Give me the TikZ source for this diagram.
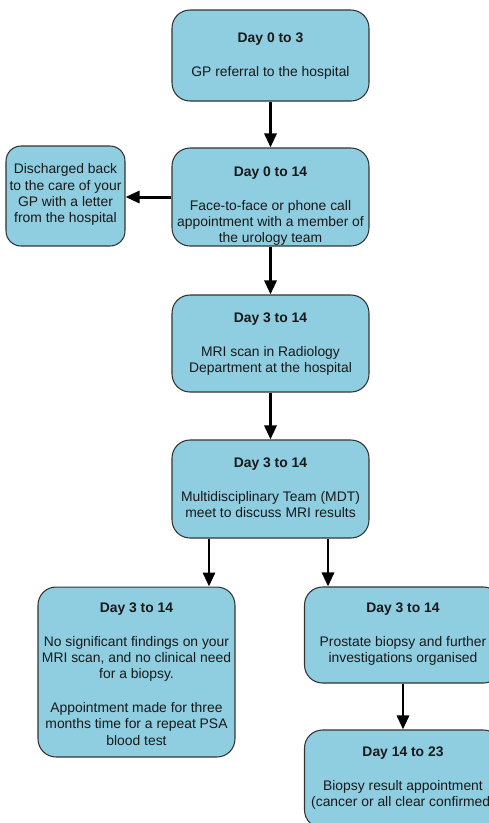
\documentclass[tikz,border=0pt]{standalone}
\usepackage{fontspec}
\setmainfont{Liberation Sans}
\usetikzlibrary{arrows.meta,positioning}
\definecolor{boxblue}{RGB}{142,206,224}
\tikzset{
  stage/.style={draw=black!80, line width=0.6pt, fill=boxblue, rounded corners=0.36cm, minimum width=3.94cm},
  stagetext/.style={align=center, inner sep=0pt, text=black!90, font=\fontsize{7.9}{9.3}\selectfont},
  flow/.style={line width=1.7pt, -{Triangle[length=0.28cm,width=0.24cm]}}
}
\newcommand{\stagegap}{\\[9.8pt]}

\begin{document}
\begin{tikzpicture}[x=0.02cm,y=-0.02cm]
    \useasboundingbox (0,0) rectangle (489,823);
    \clip (0,0) rectangle (489,823);
    \node[stage, minimum height=1.82cm] (referral) at (270.5,55.5) {};
    \node[stagetext, below=0.46cm of referral.north] (referraltxt) {\textbf{Day 0 to 3}\stagegap GP referral to the hospital};
    \node[stage, minimum height=1.96cm] (firstappt) at (270.5,197) {};
    \node[stagetext, below=0.38cm of firstappt.north] (firstappttxt) {\textbf{Day 0 to 14}\stagegap Face-to-face or phone call\\appointment with a member of\\the urology team};
    \node[stage, rounded corners=0.3cm, minimum width=2.38cm, minimum height=2cm] (discharged) at (65.5,196) {};
    \node[stagetext, below=0.36cm of discharged.north] (dischargedtxt) {Discharged back\\to the care of your\\GP with a letter\\from the hospital};
    \node[stage, minimum height=1.94cm] (mri) at (270.5,343.5) {};
    \node[stagetext, below=0.36cm of mri.north] (mritxt) {\textbf{Day 3 to 14}\stagegap MRI scan in Radiology\\Department at the hospital};
    \node[stage, minimum height=1.96cm] (mdt) at (270.5,489) {};
    \node[stagetext, below=0.36cm of mdt.north] (mdttxt) {\textbf{Day 3 to 14}\stagegap Multidisciplinary Team (MDT)\\meet to discuss MRI results};
    \node[stage, minimum height=3.4cm] (noneed) at (136.5,672) {};
    \node[stagetext, below=0.32cm of noneed.north] (noneedtxt) {\textbf{Day 3 to 14}\stagegap No significant findings on your\\MRI scan, and no clinical need\\for a biopsy.\stagegap Appointment made for three\\months time for a repeat PSA\\blood test};
    \node[stage, minimum height=1.92cm] (biopsy) at (403,635) {};
    \node[stagetext, below=0.32cm of biopsy.north] (biopsytxt) {\textbf{Day 3 to 14}\stagegap Prostate biopsy and further\\investigations organised};
    \node[stage, minimum height=1.96cm] (result) at (403,779) {};
    \node[stagetext, below=0.34cm of result.north] (resulttxt) {\textbf{Day 14 to 23}\stagegap Biopsy result appointment\\(cancer or all clear confirmed)};
    \coordinate (leftsplit) at (209,560);
    \coordinate (rightsplit) at (328,560);
    \draw[flow] (referral) -- (firstappt);
    \draw[flow] (firstappt.west) -- (firstappt.west -| discharged.east);
    \draw[flow] (firstappt) -- (mri);
    \draw[flow] (mri) -- (mdt);
    \draw[flow] (mdt.south -| leftsplit) -- (noneed.north -| leftsplit);
    \draw[flow] (mdt.south -| rightsplit) -- (biopsy.north -| rightsplit);
    \draw[flow] (biopsy) -- (result);
\end{tikzpicture}
\end{document}
